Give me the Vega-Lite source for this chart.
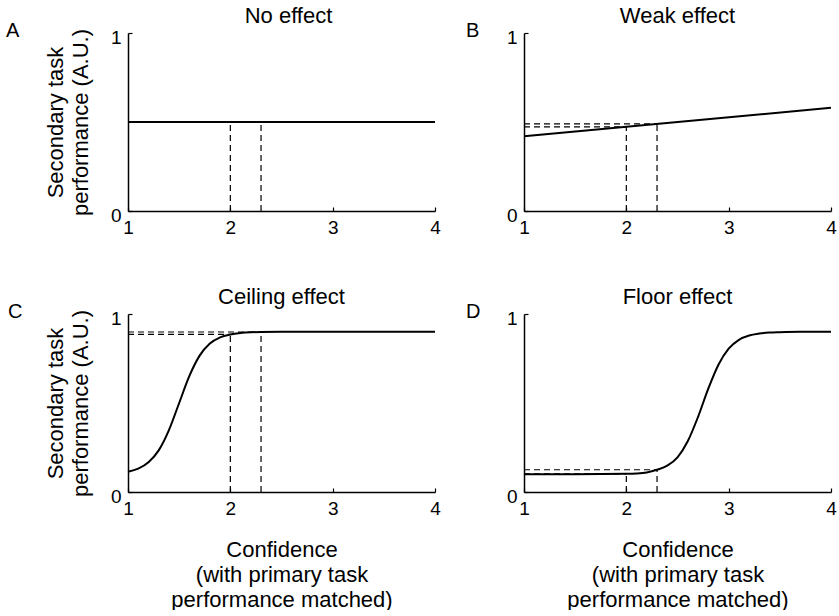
{
  "$schema": "https://vega.github.io/schema/vega-lite/v6.json",
  "background": "white",
  "padding": {"left": 6, "top": 5, "right": 0, "bottom": 0},
  "config": {
    "font": "Liberation Sans",
    "view": {"stroke": null},
    "axis": {
      "grid": false,
      "domainColor": "black",
      "domainWidth": 1.5,
      "tickColor": "black",
      "tickWidth": 1.2,
      "tickSize": -4,
      "labelColor": "black",
      "labelFontSize": 19,
      "labelFlush": false,
      "format": "d",
      "titleColor": "black",
      "titleFontSize": 22,
      "titleFontWeight": "normal",
      "titleLineHeight": 25
    },
    "axisX": {"labelPadding": 11, "titlePadding": 21},
    "axisY": {"labelPadding": 11, "labelOffset": 4, "titlePadding": 18},
    "title": {"fontSize": 22, "fontWeight": "normal", "color": "black", "baseline": "alphabetic", "offset": -7}
  },
  "datasets": {
    "letters": [
      {"panel": "A", "label": "A"},
      {"panel": "B", "label": "B"},
      {"panel": "C", "label": "C"},
      {"panel": "D", "label": "D"}
    ]
  },
  "data": {
    "values": [
      {"panel": "A", "series": "curve", "x": 1, "y": 0.5},
      {"panel": "A", "series": "curve", "x": 4, "y": 0.5},
      {"panel": "A", "series": "v1", "x": 2, "y": 0},
      {"panel": "A", "series": "v1", "x": 2, "y": 0.5},
      {"panel": "A", "series": "v2", "x": 2.3, "y": 0},
      {"panel": "A", "series": "v2", "x": 2.3, "y": 0.5},
      {"panel": "A", "series": "h1", "x": 1, "y": 0.5},
      {"panel": "A", "series": "h1", "x": 2, "y": 0.5},
      {"panel": "A", "series": "h2", "x": 1, "y": 0.5},
      {"panel": "A", "series": "h2", "x": 2.3, "y": 0.5},

      {"panel": "B", "series": "curve", "x": 1, "y": 0.42},
      {"panel": "B", "series": "curve", "x": 4, "y": 0.58},
      {"panel": "B", "series": "v1", "x": 2, "y": 0},
      {"panel": "B", "series": "v1", "x": 2, "y": 0.473},
      {"panel": "B", "series": "v2", "x": 2.3, "y": 0},
      {"panel": "B", "series": "v2", "x": 2.3, "y": 0.489},
      {"panel": "B", "series": "h1", "x": 1, "y": 0.473},
      {"panel": "B", "series": "h1", "x": 2, "y": 0.473},
      {"panel": "B", "series": "h2", "x": 1, "y": 0.489},
      {"panel": "B", "series": "h2", "x": 2.3, "y": 0.489},

      {"panel": "C", "series": "curve", "x": 1.0, "y": 0.114},
      {"panel": "C", "series": "curve", "x": 1.1, "y": 0.131},
      {"panel": "C", "series": "curve", "x": 1.2, "y": 0.167},
      {"panel": "C", "series": "curve", "x": 1.3, "y": 0.234},
      {"panel": "C", "series": "curve", "x": 1.4, "y": 0.348},
      {"panel": "C", "series": "curve", "x": 1.5, "y": 0.5},
      {"panel": "C", "series": "curve", "x": 1.6, "y": 0.652},
      {"panel": "C", "series": "curve", "x": 1.7, "y": 0.766},
      {"panel": "C", "series": "curve", "x": 1.8, "y": 0.834},
      {"panel": "C", "series": "curve", "x": 1.9, "y": 0.869},
      {"panel": "C", "series": "curve", "x": 2.0, "y": 0.885},
      {"panel": "C", "series": "curve", "x": 2.1, "y": 0.893},
      {"panel": "C", "series": "curve", "x": 2.2, "y": 0.897},
      {"panel": "C", "series": "curve", "x": 2.3, "y": 0.899},
      {"panel": "C", "series": "curve", "x": 2.5, "y": 0.9},
      {"panel": "C", "series": "curve", "x": 3.0, "y": 0.9},
      {"panel": "C", "series": "curve", "x": 3.5, "y": 0.9},
      {"panel": "C", "series": "curve", "x": 4.0, "y": 0.9},
      {"panel": "C", "series": "v1", "x": 2, "y": 0},
      {"panel": "C", "series": "v1", "x": 2, "y": 0.885},
      {"panel": "C", "series": "v2", "x": 2.3, "y": 0},
      {"panel": "C", "series": "v2", "x": 2.3, "y": 0.899},
      {"panel": "C", "series": "h1", "x": 1, "y": 0.885},
      {"panel": "C", "series": "h1", "x": 2, "y": 0.885},
      {"panel": "C", "series": "h2", "x": 1, "y": 0.899},
      {"panel": "C", "series": "h2", "x": 2.3, "y": 0.899},

      {"panel": "D", "series": "curve", "x": 1.0, "y": 0.1},
      {"panel": "D", "series": "curve", "x": 1.5, "y": 0.1},
      {"panel": "D", "series": "curve", "x": 2.0, "y": 0.102},
      {"panel": "D", "series": "curve", "x": 2.1, "y": 0.104},
      {"panel": "D", "series": "curve", "x": 2.2, "y": 0.11},
      {"panel": "D", "series": "curve", "x": 2.3, "y": 0.125},
      {"panel": "D", "series": "curve", "x": 2.4, "y": 0.148},
      {"panel": "D", "series": "curve", "x": 2.5, "y": 0.195},
      {"panel": "D", "series": "curve", "x": 2.6, "y": 0.285},
      {"panel": "D", "series": "curve", "x": 2.7, "y": 0.421},
      {"panel": "D", "series": "curve", "x": 2.8, "y": 0.579},
      {"panel": "D", "series": "curve", "x": 2.9, "y": 0.715},
      {"panel": "D", "series": "curve", "x": 3.0, "y": 0.805},
      {"panel": "D", "series": "curve", "x": 3.1, "y": 0.855},
      {"panel": "D", "series": "curve", "x": 3.2, "y": 0.879},
      {"panel": "D", "series": "curve", "x": 3.3, "y": 0.89},
      {"panel": "D", "series": "curve", "x": 3.4, "y": 0.896},
      {"panel": "D", "series": "curve", "x": 3.5, "y": 0.898},
      {"panel": "D", "series": "curve", "x": 3.7, "y": 0.9},
      {"panel": "D", "series": "curve", "x": 4.0, "y": 0.9},
      {"panel": "D", "series": "v1", "x": 2, "y": 0},
      {"panel": "D", "series": "v1", "x": 2, "y": 0.102},
      {"panel": "D", "series": "v2", "x": 2.3, "y": 0},
      {"panel": "D", "series": "v2", "x": 2.3, "y": 0.125},
      {"panel": "D", "series": "h1", "x": 1, "y": 0.102},
      {"panel": "D", "series": "h1", "x": 2, "y": 0.102},
      {"panel": "D", "series": "h2", "x": 1, "y": 0.125},
      {"panel": "D", "series": "h2", "x": 2.3, "y": 0.125}
    ]
  },
  "bounds": "flush",
  "columns": 2,
  "spacing": {"row": 103, "column": 89},
  "concat": [
    {
      "title": {"text": "No effect", "dx": 7},
      "width": 307,
      "height": 178,
      "layer": [
        {"transform": [{"filter": "datum.panel === 'A' && datum.series !== 'curve'"}], "mark": {"type": "line", "color": "black", "strokeWidth": 1.2, "strokeDash": [6, 4]},
         "encoding": {
          "x": {"field": "x", "type": "quantitative", "scale": {"domain": [1, 4], "nice": false, "zero": false}, "axis": {"values": [1, 2, 3, 4], "title": null}},
          "y": {"field": "y", "type": "quantitative", "scale": {"domain": [0, 1], "nice": false}, "axis": {"values": [0, 1], "title": ["Secondary task", "performance (A.U.)"]}},
          "detail": {"field": "series", "type": "nominal"}}},
        {"transform": [{"filter": "datum.panel === 'A' && datum.series === 'curve'"}], "mark": {"type": "line", "color": "black", "strokeWidth": 2, "interpolate": "monotone"},
         "encoding": {"x": {"field": "x", "type": "quantitative"}, "y": {"field": "y", "type": "quantitative"}}},
        {"data": {"name": "letters"}, "transform": [{"filter": "datum.panel === 'A'"}], "mark": {"type": "text", "align": "left", "baseline": "alphabetic", "dx": -122, "dy": 4, "fontSize": 20, "color": "black"},
         "encoding": {"x": {"datum": 1, "type": "quantitative"}, "y": {"datum": 1, "type": "quantitative"}, "text": {"field": "label", "type": "nominal"}}}
      ]
    },
    {
      "title": "Weak effect",
      "width": 307,
      "height": 178,
      "layer": [
        {"transform": [{"filter": "datum.panel === 'B' && datum.series !== 'curve'"}], "mark": {"type": "line", "color": "black", "strokeWidth": 1.2, "strokeDash": [6, 4]},
         "encoding": {
          "x": {"field": "x", "type": "quantitative", "scale": {"domain": [1, 4], "nice": false, "zero": false}, "axis": {"values": [1, 2, 3, 4], "title": null}},
          "y": {"field": "y", "type": "quantitative", "scale": {"domain": [0, 1], "nice": false}, "axis": {"values": [0, 1], "title": null}},
          "detail": {"field": "series", "type": "nominal"}}},
        {"transform": [{"filter": "datum.panel === 'B' && datum.series === 'curve'"}], "mark": {"type": "line", "color": "black", "strokeWidth": 2, "interpolate": "monotone"},
         "encoding": {"x": {"field": "x", "type": "quantitative"}, "y": {"field": "y", "type": "quantitative"}}},
        {"data": {"name": "letters"}, "transform": [{"filter": "datum.panel === 'B'"}], "mark": {"type": "text", "align": "left", "baseline": "alphabetic", "dx": -58, "dy": 4, "fontSize": 20, "color": "black"},
         "encoding": {"x": {"datum": 1, "type": "quantitative"}, "y": {"datum": 1, "type": "quantitative"}, "text": {"field": "label", "type": "nominal"}}}
      ]
    },
    {
      "title": "Ceiling effect",
      "width": 307,
      "height": 178,
      "layer": [
        {"transform": [{"filter": "datum.panel === 'C' && datum.series !== 'curve'"}], "mark": {"type": "line", "color": "black", "strokeWidth": 1.2, "strokeDash": [6, 4]},
         "encoding": {
          "x": {"field": "x", "type": "quantitative", "scale": {"domain": [1, 4], "nice": false, "zero": false}, "axis": {"values": [1, 2, 3, 4], "title": ["Confidence", "(with primary task", "performance matched)"]}},
          "y": {"field": "y", "type": "quantitative", "scale": {"domain": [0, 1], "nice": false}, "axis": {"values": [0, 1], "title": ["Secondary task", "performance (A.U.)"]}},
          "detail": {"field": "series", "type": "nominal"}}},
        {"transform": [{"filter": "datum.panel === 'C' && datum.series === 'curve'"}], "mark": {"type": "line", "color": "black", "strokeWidth": 2, "interpolate": "monotone"},
         "encoding": {"x": {"field": "x", "type": "quantitative"}, "y": {"field": "y", "type": "quantitative"}}},
        {"data": {"name": "letters"}, "transform": [{"filter": "datum.panel === 'C'"}], "mark": {"type": "text", "align": "left", "baseline": "alphabetic", "dx": -120, "dy": 4, "fontSize": 20, "color": "black"},
         "encoding": {"x": {"datum": 1, "type": "quantitative"}, "y": {"datum": 1, "type": "quantitative"}, "text": {"field": "label", "type": "nominal"}}}
      ]
    },
    {
      "title": "Floor effect",
      "width": 307,
      "height": 178,
      "layer": [
        {"transform": [{"filter": "datum.panel === 'D' && datum.series !== 'curve'"}], "mark": {"type": "line", "color": "black", "strokeWidth": 1.2, "strokeDash": [6, 4]},
         "encoding": {
          "x": {"field": "x", "type": "quantitative", "scale": {"domain": [1, 4], "nice": false, "zero": false}, "axis": {"values": [1, 2, 3, 4], "title": ["Confidence", "(with primary task", "performance matched)"]}},
          "y": {"field": "y", "type": "quantitative", "scale": {"domain": [0, 1], "nice": false}, "axis": {"values": [0, 1], "title": null}},
          "detail": {"field": "series", "type": "nominal"}}},
        {"transform": [{"filter": "datum.panel === 'D' && datum.series === 'curve'"}], "mark": {"type": "line", "color": "black", "strokeWidth": 2, "interpolate": "monotone"},
         "encoding": {"x": {"field": "x", "type": "quantitative"}, "y": {"field": "y", "type": "quantitative"}}},
        {"data": {"name": "letters"}, "transform": [{"filter": "datum.panel === 'D'"}], "mark": {"type": "text", "align": "left", "baseline": "alphabetic", "dx": -58, "dy": 4, "fontSize": 20, "color": "black"},
         "encoding": {"x": {"datum": 1, "type": "quantitative"}, "y": {"datum": 1, "type": "quantitative"}, "text": {"field": "label", "type": "nominal"}}}
      ]
    }
  ]
}
